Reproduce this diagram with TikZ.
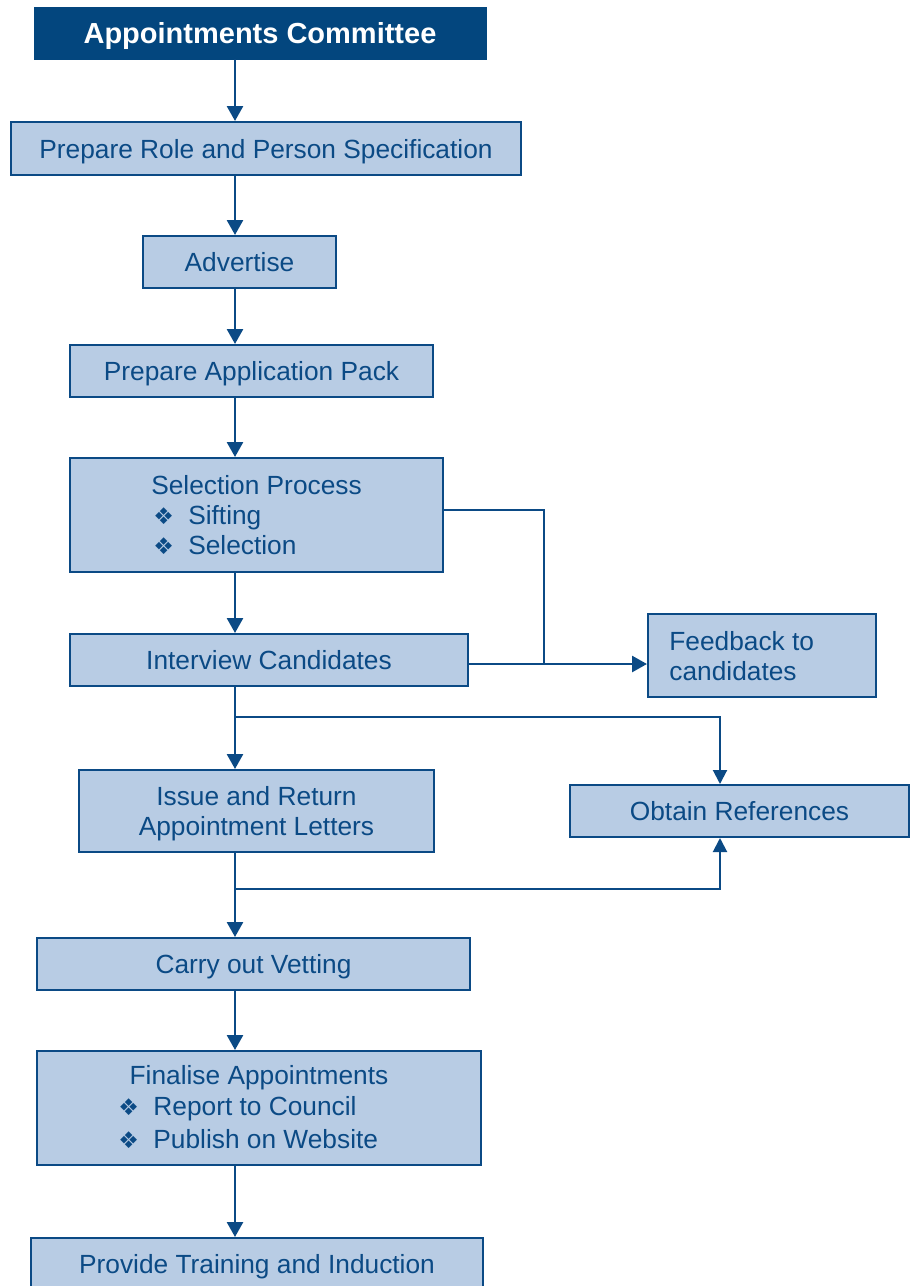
\documentclass[tikz,border=0pt]{standalone}
\usepackage{fontspec}
\setmainfont{Liberation Sans}
\newfontfamily\dejavu{DejaVu Sans}
\usetikzlibrary{arrows.meta}
\definecolor{dblue}{HTML}{0B4A85}
\definecolor{tfill}{HTML}{03467E}
\definecolor{lfill}{HTML}{B8CCE4}
\newcommand{\bul}{\makebox[17.5pt][l]{\dejavu\fontsize{11.5}{11.5}\selectfont ❖}}
\begin{document}
\begin{tikzpicture}[x=0.5pt,y=-0.5pt,
  box/.style={draw=dblue,line width=1pt,fill=lfill,inner sep=0pt,text=dblue,
    font=\fontsize{13.15}{15}\selectfont,align=center,text depth=0pt},
  titlebox/.style={draw=tfill,fill=tfill,inner sep=0pt,text=white,text depth=0pt,
    font=\fontsize{14.5}{16}\selectfont\bfseries},
  txt/.style={inner sep=0pt,text=dblue,font=\fontsize{13.15}{15}\selectfont,align=left},
  arr/.style={draw=dblue,line width=1.35pt,-{Triangle[width=8pt,length=7.5pt]}},
  arrthin/.style={draw=dblue,line width=1pt,-{Triangle[width=7pt,length=7pt]}},
  conn/.style={draw=dblue,line width=1.35pt},
  connthin/.style={draw=dblue,line width=1pt}]
\useasboundingbox (0,0) rectangle (917,1286);
\fill[white] (0,0) rectangle (917,1286);

\node[titlebox,minimum width=226pt,minimum height=26pt] (title) at (260,33) {Appointments Committee};
\node[box,minimum width=255pt,minimum height=26.5pt] (role) at (266,148.5) {Prepare Role and Person Specification};
\node[box,minimum width=96.5pt,minimum height=26pt] (adv) at (239.5,262) {Advertise};
\node[box,minimum width=181.5pt,minimum height=26pt] (pack) at (251.5,371) {Prepare Application Pack};
\node[box,minimum width=186.5pt,minimum height=57pt,align=left] (sel) at (256.5,515) {Selection Process\\\hspace{1pt}\bul Sifting\\\hspace{1pt}\bul Selection};
\node[box,minimum width=199pt,minimum height=26pt] (intv) at (269,660) {Interview Candidates};
\node[box,minimum width=114pt,minimum height=41.5pt] (feed) at (762,655.5) {};
\node[txt,anchor=west] (feedtxt) at (669,656) {Feedback to\\candidates};
\node[box,minimum width=177.5pt,minimum height=41pt] (issue) at (256.5,811) {Issue and Return\\Appointment Letters};
\node[box,minimum width=169.5pt,minimum height=26pt] (obtain) at (739.5,811) {Obtain References};
\node[box,minimum width=216.5pt,minimum height=26pt] (vet) at (253.5,964) {Carry out Vetting};
\node[box,minimum width=222pt,minimum height=57pt] (fin) at (259,1108) {};
\node[txt] (finh) at (259,1078) {Finalise Appointments};
\node[txt,anchor=west] (fin1) at (118,1109) {\bul Report to Council};
\node[txt,anchor=west] (fin2) at (118,1139) {\bul Publish on Website};
\node[box,minimum width=226pt,minimum height=26pt] (train) at (257,1264) {Provide Training and Induction};

\coordinate (spine) at (235,0);
\coordinate (ox) at (720,0);
\coordinate (jx) at (544,664);
\coordinate (b1) at (235,717);
\coordinate (b2) at (235,889);

\draw[arr] (spine |- title.south) -- (spine |- role.north);
\draw[arr] (spine |- role.south) -- (spine |- adv.north);
\draw[arr] (spine |- adv.south) -- (spine |- pack.north);
\draw[arr] (spine |- pack.south) -- (spine |- sel.north);
\draw[arr] (spine |- sel.south) -- (spine |- intv.north);
\draw[arr] (spine |- intv.south) -- (spine |- issue.north);
\draw[arr] (spine |- issue.south) -- (spine |- vet.north);
\draw[arr] (spine |- vet.south) -- (spine |- fin.north);
\draw[arr] (spine |- fin.south) -- (spine |- train.north);

\draw[conn] ([yshift=2.5pt]sel.east) -| (jx);
\draw[connthin] (intv.east |- jx) -- (jx);
\draw[arr] (jx) -- (feed.west |- jx);
\draw[arrthin] (b1) -| (ox |- obtain.north);
\draw[arrthin] (b2) -| (ox |- obtain.south);
\end{tikzpicture}
\end{document}
